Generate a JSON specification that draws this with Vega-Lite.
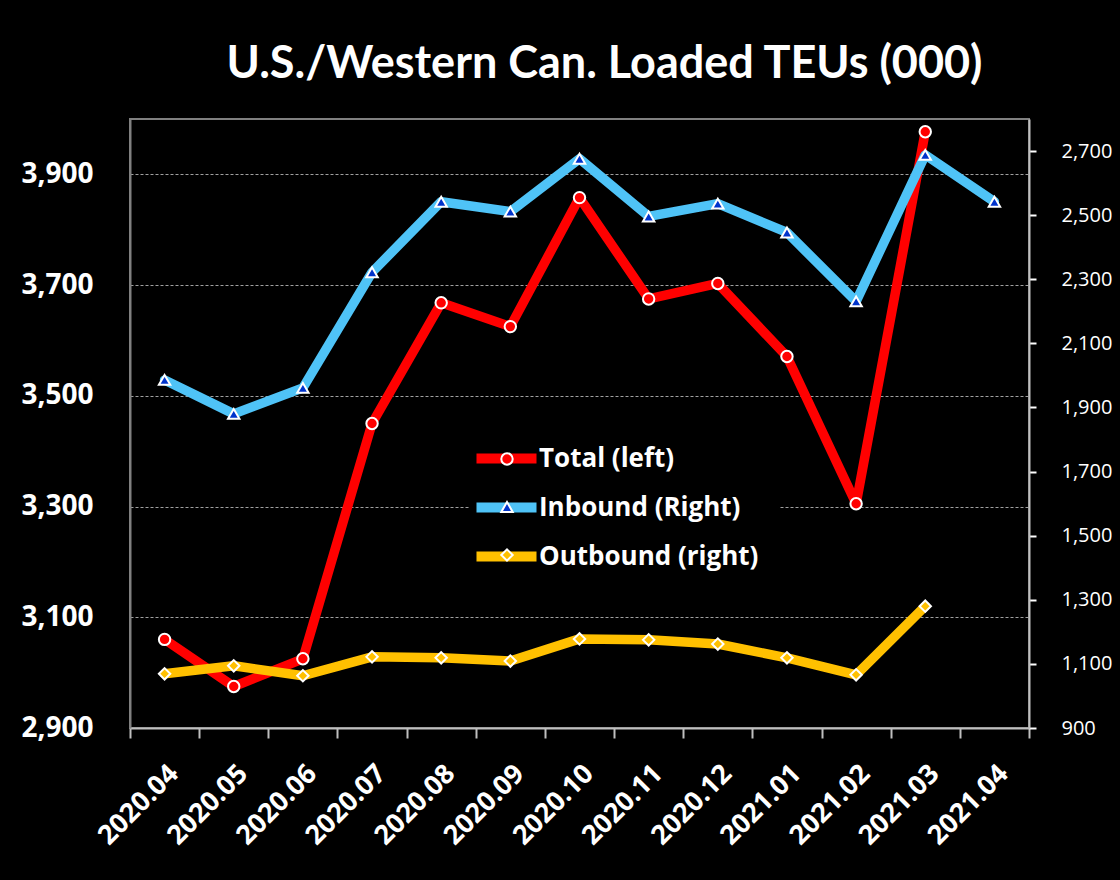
{
  "$schema": "https://vega.github.io/schema/vega-lite/v6.json",
  "width": 899,
  "height": 609,
  "autosize": {"type": "none"},
  "padding": {"left": 130, "top": 119, "right": 91, "bottom": 152},
  "background": "#000000",
  "title": {
    "text": "U.S./Western Can. Loaded TEUs (000)",
    "font": "Lato",
    "fontSize": 45,
    "fontWeight": "bold",
    "color": "#ffffff",
    "anchor": "middle",
    "offset": 32,
    "dx": 25
  },
  "config": {
    "view": {"stroke": "#808080", "strokeWidth": 2},
    "font": "Open Sans"
  },
  "data": {
    "values": [
      {"month": "2020.04", "series": "Total (left)", "value": 3060},
      {"month": "2020.05", "series": "Total (left)", "value": 2975},
      {"month": "2020.06", "series": "Total (left)", "value": 3025},
      {"month": "2020.07", "series": "Total (left)", "value": 3450},
      {"month": "2020.08", "series": "Total (left)", "value": 3668},
      {"month": "2020.09", "series": "Total (left)", "value": 3625},
      {"month": "2020.10", "series": "Total (left)", "value": 3858},
      {"month": "2020.11", "series": "Total (left)", "value": 3675},
      {"month": "2020.12", "series": "Total (left)", "value": 3703},
      {"month": "2021.01", "series": "Total (left)", "value": 3571},
      {"month": "2021.02", "series": "Total (left)", "value": 3305},
      {"month": "2021.03", "series": "Total (left)", "value": 3977},
      {"month": "2020.04", "series": "Inbound (Right)", "value": 1986},
      {"month": "2020.05", "series": "Inbound (Right)", "value": 1880},
      {"month": "2020.06", "series": "Inbound (Right)", "value": 1961},
      {"month": "2020.07", "series": "Inbound (Right)", "value": 2322},
      {"month": "2020.08", "series": "Inbound (Right)", "value": 2542},
      {"month": "2020.09", "series": "Inbound (Right)", "value": 2511},
      {"month": "2020.10", "series": "Inbound (Right)", "value": 2676},
      {"month": "2020.11", "series": "Inbound (Right)", "value": 2496},
      {"month": "2020.12", "series": "Inbound (Right)", "value": 2536},
      {"month": "2021.01", "series": "Inbound (Right)", "value": 2446},
      {"month": "2021.02", "series": "Inbound (Right)", "value": 2231},
      {"month": "2021.03", "series": "Inbound (Right)", "value": 2688},
      {"month": "2021.04", "series": "Inbound (Right)", "value": 2542},
      {"month": "2020.04", "series": "Outbound (right)", "value": 1069},
      {"month": "2020.05", "series": "Outbound (right)", "value": 1094},
      {"month": "2020.06", "series": "Outbound (right)", "value": 1063},
      {"month": "2020.07", "series": "Outbound (right)", "value": 1122},
      {"month": "2020.08", "series": "Outbound (right)", "value": 1119},
      {"month": "2020.09", "series": "Outbound (right)", "value": 1109},
      {"month": "2020.10", "series": "Outbound (right)", "value": 1178},
      {"month": "2020.11", "series": "Outbound (right)", "value": 1175},
      {"month": "2020.12", "series": "Outbound (right)", "value": 1162},
      {"month": "2021.01", "series": "Outbound (right)", "value": 1119},
      {"month": "2021.02", "series": "Outbound (right)", "value": 1066},
      {"month": "2021.03", "series": "Outbound (right)", "value": 1280}
    ]
  },
  "encoding": {
    "x": {
      "field": "month",
      "type": "ordinal",
      "bandPosition": 0.5,
      "scale": {"type": "band", "paddingInner": 0, "paddingOuter": 0},
      "axis": {
        "title": null,
        "labelAngle": -45,
        "labelFont": "Open Sans",
        "labelFontSize": 27,
        "labelFontWeight": "bold",
        "labelColor": "#ffffff",
        "tickBand": "extent",
        "tickSize": 10,
        "tickColor": "#bfbfbf",
        "tickWidth": 2,
        "domainColor": "#bfbfbf",
        "domainWidth": 2,
        "labelPadding": 22,
        "grid": false
      }
    }
  },
  "layer": [
    {
      "transform": [{"filter": "datum.series === 'Total (left)'"}],
      "encoding": {
        "y": {
          "field": "value",
          "type": "quantitative",
          "scale": {"domain": [2900, 4000], "nice": false, "zero": false},
          "axis": {
            "orient": "left",
            "title": null,
            "values": [2900, 3100, 3300, 3500, 3700, 3900],
            "format": ",d",
            "labelFont": "Open Sans",
            "labelFontSize": 28,
            "labelFontWeight": "bold",
            "labelColor": "#ffffff",
            "ticks": false,
            "labelPadding": 37,
            "domainColor": "#808080",
            "domainWidth": 2,
            "grid": true,
            "gridColor": "#a0a0a0",
            "gridDash": [3, 2],
            "gridWidth": 1
          }
        }
      },
      "layer": [
        {
          "mark": {"type": "line", "strokeWidth": 9.5, "strokeJoin": "round", "strokeCap": "round"},
          "encoding": {
            "color": {
              "field": "series",
              "type": "nominal",
              "scale": {"domain": ["Total (left)", "Inbound (Right)", "Outbound (right)"], "range": ["#ff0000", "#4fc3f7", "#ffc000"]},
              "legend": {
                "orient": "none", "legendX": 339, "legendY": 302, "title": null,
                "symbolType": "M-2.45,0H2.45", "symbolSize": 600, "symbolStrokeWidth": 10,
                "labelFont": "Open Sans", "labelFontSize": 26, "labelFontWeight": "bold",
                "labelColor": "#ffffff", "labelOffset": 15, "rowPadding": 8, "padding": 20,
                "fillColor": "#000000", "zindex": 1, "labelLimit": 400
              }
            }
          }
        },
        {
          "mark": {"type": "point", "filled": true, "size": 130, "stroke": "#ffffff", "strokeWidth": 2, "opacity": 1},
          "encoding": {
            "fill": {
              "field": "series",
              "type": "nominal",
              "scale": {"domain": ["Total (left)", "Inbound (Right)", "Outbound (right)", "~"], "range": ["#ff0000", "#0033cc", "#ffc000", "#000000"]},
              "legend": {
                "orient": "none", "legendX": 344, "legendY": 307, "title": null,
                "values": ["Total (left)", "Inbound (Right)", "Outbound (right)"],
                "symbolSize": 130, "symbolStrokeColor": "#ffffff", "symbolStrokeWidth": 2, "symbolOpacity": 1,
                "labelFont": "Open Sans", "labelFontSize": 26, "labelFontWeight": "bold",
                "labelOpacity": 0, "rowPadding": 22, "padding": 20, "zindex": 2, "labelLimit": 400
              }
            },
            "shape": {
              "field": "series",
              "type": "nominal",
              "scale": {"domain": ["Total (left)", "Inbound (Right)", "Outbound (right)", "~"], "range": ["circle", "triangle-up", "diamond", "circle"]}
            }
          }
        }
      ]
    },
    {
      "transform": [{"filter": "datum.series !== 'Total (left)'"}],
      "encoding": {
        "y": {
          "field": "value",
          "type": "quantitative",
          "scale": {"domain": [900, 2800], "nice": false, "zero": false},
          "axis": {
            "orient": "right",
            "title": null,
            "values": [900, 1100, 1300, 1500, 1700, 1900, 2100, 2300, 2500, 2700],
            "format": ",d",
            "labelFont": "Open Sans",
            "labelFontSize": 20,
            "labelColor": "#ffffff",
            "tickColor": "#ffffff",
            "tickSize": 7,
            "tickWidth": 2,
            "labelPadding": 25,
            "domainColor": "#c0c0c0",
            "domainWidth": 2,
            "grid": false
          }
        }
      },
      "layer": [
        {
          "mark": {"type": "line", "strokeWidth": 9.5, "strokeJoin": "round", "strokeCap": "round"},
          "encoding": {
            "color": {"field": "series", "type": "nominal"}
          }
        },
        {
          "mark": {"type": "point", "filled": true, "size": 130, "stroke": "#ffffff", "strokeWidth": 2, "opacity": 1},
          "encoding": {
            "fill": {"field": "series", "type": "nominal"},
            "shape": {"field": "series", "type": "nominal"}
          }
        }
      ]
    }
  ],
  "resolve": {"scale": {"y": "independent"}}
}
